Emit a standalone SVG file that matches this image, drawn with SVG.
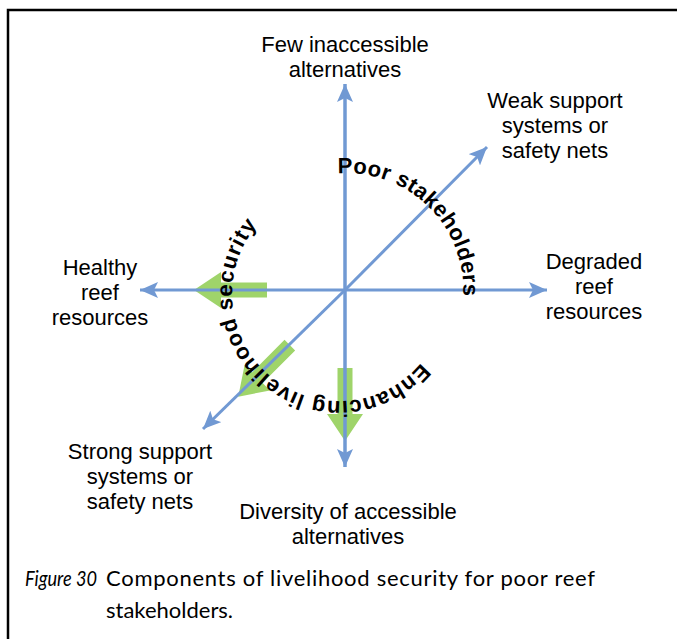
<svg xmlns="http://www.w3.org/2000/svg" width="677" height="639" viewBox="0 0 677 639">
  <style>
    .lbl { font-family: "Liberation Sans", Arial, sans-serif; font-size: 22px; fill: #000; text-anchor: middle; }
    .arc { font-family: "Liberation Sans", Arial, sans-serif; font-size: 22px; font-weight: bold; fill: #000; }
    .axis { stroke: #7199d3; stroke-width: 3; fill: none; }
    .push { fill: #9fd46a; }
    .cap { font-family: Lato, "Open Sans", sans-serif; font-size: 22px; fill: #000; }
  </style>
  <defs>
    <marker id="head" markerUnits="userSpaceOnUse" markerWidth="20" markerHeight="16" refX="18" refY="8" orient="auto">
      <path d="M0,0 L18,8 L0,16 L4,8 Z" fill="#7199d3"/>
    </marker>
    <!-- one push arrow pointing along +x, from radius 78 to 151 -->
    <polygon id="push" points="78,-7.5 124,-7.5 124,-18 151,0 124,18 124,7.5 78,7.5"/>
    <!-- clockwise baselines for the curved labels -->
    <path id="ringTop" d="M337.8,173.4 A117,117 0 0 1 457.0,328.0"/>
    <path id="ringLow" d="M421.0,362.8 A107,107 0 1 1 329.7,187.4"/>
  </defs>

  <rect width="677" height="639" fill="#fff"/>
  <!-- frame -->
  <path d="M8,639 V10 H677" fill="none" stroke="#000" stroke-width="2.5"/>

  <!-- green push arrows -->
  <g id="push-arrows" class="push" transform="translate(345,290)">
    <use href="#push" transform="rotate(180)"/>
    <use href="#push" transform="rotate(135)"/>
    <use href="#push" transform="rotate(90)"/>
  </g>

  <!-- axes -->
  <g id="connectors">
    <line class="axis" x1="345" y1="467" x2="345" y2="84" marker-end="url(#head)"/>
    <line class="axis" x1="345" y1="84" x2="345" y2="467" marker-end="url(#head)"/>
    <line class="axis" x1="345" y1="290" x2="140" y2="290" marker-end="url(#head)"/>
    <line class="axis" x1="345" y1="290" x2="547" y2="290" marker-end="url(#head)"/>
    <line class="axis" x1="345" y1="290" x2="487" y2="147" marker-end="url(#head)"/>
    <line class="axis" x1="345" y1="290" x2="203" y2="429" marker-end="url(#head)"/>
  </g>

  <!-- curved labels -->
  <g id="poor-stakeholders">
    <text class="arc"><textPath href="#ringTop" textLength="198" lengthAdjust="spacing">Poor stakeholders</textPath></text>
  </g>
  <g id="enhancing-security">
    <text class="arc"><textPath href="#ringLow" textLength="336" lengthAdjust="spacing">Enhancing livelihood security</textPath></text>
  </g>

  <g id="few-inaccessible">
    <text class="lbl" x="345" y="52">Few inaccessible</text>
    <text class="lbl" x="345" y="77">alternatives</text>
  </g>
  <g id="weak-support">
    <text class="lbl" x="555" y="108">Weak support</text>
    <text class="lbl" x="555" y="133">systems or</text>
    <text class="lbl" x="555" y="158">safety nets</text>
  </g>
  <g id="degraded-reef">
    <text class="lbl" x="594" y="269">Degraded</text>
    <text class="lbl" x="594" y="294">reef</text>
    <text class="lbl" x="594" y="319">resources</text>
  </g>
  <g id="healthy-reef">
    <text class="lbl" x="100" y="275">Healthy</text>
    <text class="lbl" x="100" y="300">reef</text>
    <text class="lbl" x="100" y="325">resources</text>
  </g>
  <g id="strong-support">
    <text class="lbl" x="140" y="459">Strong support</text>
    <text class="lbl" x="140" y="484">systems or</text>
    <text class="lbl" x="140" y="509">safety nets</text>
  </g>
  <g id="diversity">
    <text class="lbl" x="348" y="519">Diversity of accessible</text>
    <text class="lbl" x="348" y="544">alternatives</text>
  </g>

  <!-- caption -->
  <g id="caption">
    <text class="cap" x="25" y="586" font-size="20" font-style="italic" textLength="72" lengthAdjust="spacingAndGlyphs">Figure 30</text>
    <text class="cap" x="106" y="586" textLength="489" lengthAdjust="spacing">Components of livelihood security for poor reef</text>
    <text class="cap" x="106" y="618">stakeholders.</text>
  </g>
</svg>
